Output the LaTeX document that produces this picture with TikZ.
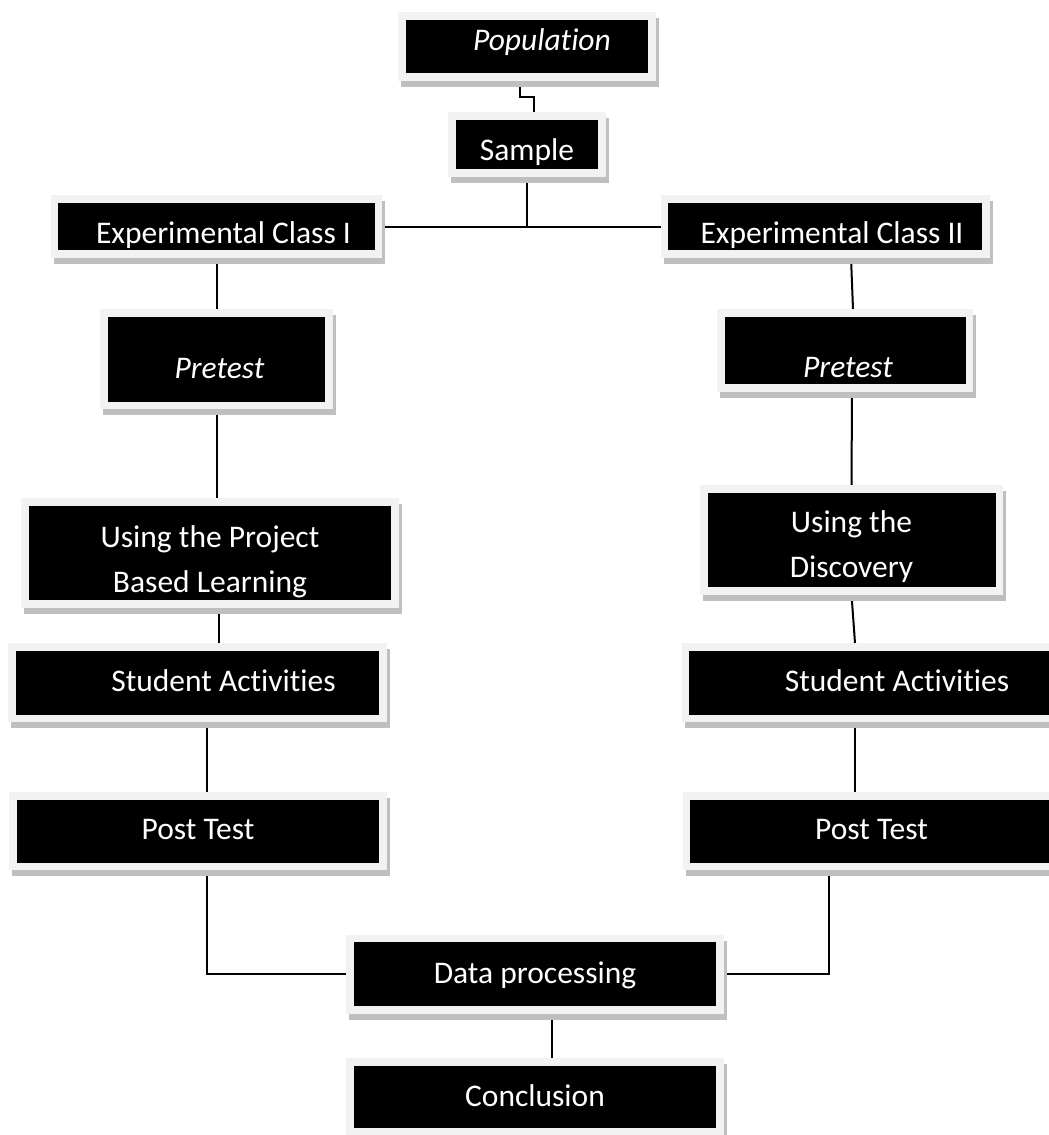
\documentclass[tikz,border=0pt]{standalone}
\usepackage{fontspec}
\setmainfont{Carlito}[Ligatures=NoCommon]
\usepackage{tikz}
\usetikzlibrary{positioning,calc,backgrounds}
\definecolor{Ink}{HTML}{000000}
\definecolor{Rim}{HTML}{F2F2F2}
\definecolor{Shade}{HTML}{BFBFBF}

\begin{document}
\begin{tikzpicture}[
  x=0.5pt,y=-0.5pt,
  box/.style={fill=black,draw=Rim,line width=3.75pt,text=white,inner sep=0pt,
    font=\fontsize{15.75}{22.5}\selectfont},
  sink/.style={text height=#1,text depth=0pt},
  link/.style={draw=Ink,line width=1pt}]
\useasboundingbox (0,0) rectangle (1049,1135);
\begin{scope}
\clip (0,0) rectangle (1049,1135);
% top of the flow
\node[box,minimum width=125pt,minimum height=30.5pt,sink=3.5pt] (pop) at (527,46.5) {\hspace*{15pt}\textit{Population}};
\node[box,minimum width=75pt,minimum height=28.5pt,sink=15.5pt] (sample) at (527,144.5) {Sample};
\node[box,minimum width=162pt,minimum height=27.5pt,sink=16.5pt] (exp1) at (216.5,226.5) {\hspace*{7pt}Experimental Class I};
\node[box,minimum width=160.75pt,minimum height=27.5pt,sink=16.5pt] (exp2) at (825,226.5) {\hspace*{7pt}Experimental Class II};
% left branch
\node[box,minimum width=112.5pt,minimum height=46.25pt,sink=19pt] (pre1) at (216.5,359) {\hspace*{3pt}\textit{Pretest}};
\node[box,minimum width=185pt,minimum height=51pt,align=center,sink=39pt] (pbl) at (210,553) {Using the Project\\Based Learning};
\node[box,minimum width=185.5pt,minimum height=35.75pt,sink=8.5pt] (sa1) at (197.5,682.5) {\hspace*{26pt}Student Activities};
\node[box,minimum width=185pt,minimum height=35.25pt,sink=8pt] (pt1) at (198,831) {Post Test};
% right branch
\node[box,minimum width=124.25pt,minimum height=37.5pt,sink=26.5pt] (pre2) at (845,350.5) {\hspace*{3pt}\textit{Pretest}};
\node[box,minimum width=147.75pt,minimum height=51pt,align=center,sink=37pt] (disc) at (851.5,540) {Using the\\Discovery};
\node[box,minimum width=185.5pt,minimum height=35.75pt,sink=8.5pt] (sa2) at (871,682.5) {\hspace*{26pt}Student Activities};
\node[box,minimum width=185pt,minimum height=35.25pt,sink=8pt] (pt2) at (871.5,831) {Post Test};
% bottom
\node[box,minimum width=185pt,minimum height=35.75pt,sink=9pt] (data) at (535,974) {Data processing};
\node[box,minimum width=185pt,minimum height=35pt,sink=9pt] (concl) at (535,1097) {Conclusion};
\end{scope}

\begin{scope}[on background layer]
\clip (0,0) rectangle (1049,1135);
\draw[link] ([shift={(-7,0)}]pop.south) -- ++(0,16) -| ([shift={(7,0)}]sample.north);
\draw[link] (sample.south) -- (sample.south |- exp1.east);
\draw[link] (exp1.east) -- (exp2.west);
\draw[link] (exp1.south) -- (pre1.north);
\draw[link] (pre1.south) -- (pre1.south |- pbl.north);
\draw[link] ([shift={(9,0)}]pbl.south) -- ([shift={(9,0)}]pbl.south |- sa1.north);
\draw[link] ([shift={(9.5,0)}]sa1.south) -- ([shift={(9,0)}]pt1.north);
\draw[link] ([shift={(26,0)}]exp2.south) -- ([shift={(8,0)}]pre2.north);
\draw[link] ([shift={(7,0)}]pre2.south) -- (disc.north);
\draw[link] (disc.south) -- ([shift={(-16,0)}]sa2.north);
\draw[link] ([shift={(-16,0)}]sa2.south) -- ([shift={(-16.5,0)}]pt2.north);
\draw[link] ([shift={(9,0)}]pt1.south) |- (data.west);
\draw[link] ([shift={(-42.5,0)}]pt2.south) |- (data.east);
\draw[link] ([shift={(17,0)}]data.south) -- ([shift={(17,0)}]concl.north);
% drop shadows
\foreach \n in {pop,sample,exp1,exp2,pre1,pre2,pbl,disc,sa1,sa2,pt1,pt2,data,concl}
  \fill[Shade] ([shift={(3,6)}]\n.north west) rectangle ([shift={(3,6)}]\n.south east);
\end{scope}
\end{tikzpicture}
\end{document}
